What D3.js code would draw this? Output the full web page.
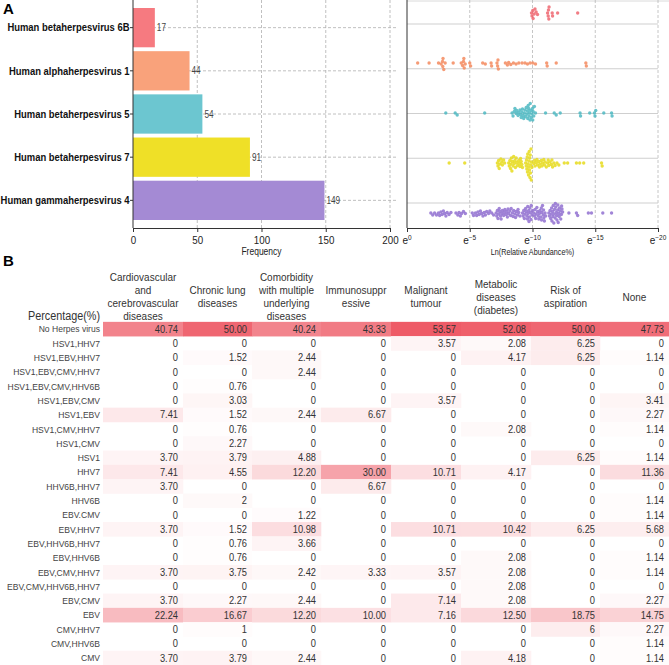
<!DOCTYPE html>
<html><head><meta charset="utf-8">
<script src="https://cdn.jsdelivr.net/npm/d3@7"></script>
<style>
body{margin:0;background:#fff;}
svg{display:block;}
text{font-family:"Liberation Sans",Arial,sans-serif;}
</style></head><body>
<svg id="chart" width="669" height="665"></svg>
<script>
// ---------- DATA ----------
const viruses = ["Human betaherpesvirus 6B","Human alphaherpesvirus 1","Human betaherpesvirus 5","Human betaherpesvirus 7","Human gammaherpesvirus 4"];
const frequencies = [17, 44, 54, 91, 149];
const barTicks = [0, 50, 100, 150, 200];
const abundanceTicks = [0, -5, -10, -15, -20];

const lnHHV6B = [-9.92,-9.96,-10.02,-10.05,-10.13,-10.2,-10.29,-10.4,-11.2,-11.25,-11.27,-11.3,-11.32,-11.57,-11.6,-12.0,-13.6];
const lnHSV1 = [-0.85,-1.76,-2.51,-2.72,-2.83,-2.85,-2.87,-2.93,-3.04,-3.68,-4.32,-4.43,-4.5,-4.53,-4.56,-4.64,-5.0,-5.07,-6.03,-6.24,-6.7,-6.74,-7.17,-7.22,-7.25,-7.28,-7.84,-8.0,-8.1,-8.27,-8.48,-8.69,-8.91,-9.17,-9.4,-9.6,-9.81,-10.03,-10.24,-11.13,-11.17,-11.89,-14.25,-14.29];
const lnHCMV = [-3.09,-3.84,-4.0,-6.19,
  -8.37,-8.45,-8.55,-8.6,-8.7,-8.75,-8.85,-8.9,-9.0,-9.05,-9.1,-9.15,-9.2,-9.25,-9.3,-9.35,-9.4,-9.45,-9.5,-9.55,-9.6,-9.62,-9.66,-9.7,-9.72,-9.75,-9.8,-9.82,-9.85,-9.9,-9.95,-10.0,-10.02,-10.05,-10.1,-10.15,-10.24,
  -11.04,-11.73,-11.89,-12.21,-13.79,-13.83,-14.56,-14.93,-14.98,-15.04,-15.68,-16.3,-16.34];
const lnHHV7 = [-3.36,-4.6,
  -7.2,-7.25,-7.3,-7.35,-7.4,-7.48,-7.55,-7.6,-7.7,-7.78,-8.1,-8.15,-8.2,-8.25,-8.3,-8.32,-8.36,-8.4,-8.45,-8.5,-8.55,-8.6,-8.64,-8.7,-8.75,-8.8,
  -8.9,-8.95,-9.0,-9.05,-9.1,-9.15,-9.2,-9.45,-9.5,-9.52,-9.55,-9.58,-9.6,-9.62,-9.65,-9.68,-9.7,-9.72,-9.74,-9.76,-9.78,-9.8,-9.82,-9.84,-9.86,-9.88,-9.9,-9.92,-9.95,
  -10.1,-10.15,-10.2,-10.3,-10.35,-10.4,-10.5,-10.55,-10.6,-10.7,-10.75,-10.8,-10.9,-10.95,-11.0,-11.1,-11.2,-11.25,-11.3,-11.4,-11.5,-11.55,-11.6,-11.7,-11.8,-11.95,-12.1,
  -12.53,-12.8,-13.5,-13.76,-14.08,-15.5,-15.55];
const lnEBV = [-1.9,-2.05,-2.2,-2.35,-2.5,-2.6,-2.7,-2.8,-2.9,-3.0,-3.1,-3.2,-3.35,-3.5,
  -3.9,-4.05,-4.15,-4.25,-4.35,-4.5,-4.65,
  -5.2,-5.3,-5.45,-5.55,-5.65,-5.75,-5.85,-5.95,-6.05,-6.15,-6.25,-6.35,-6.5,-6.6,-6.75,-6.9,
  -7.1,-7.15,-7.2,-7.25,-7.3,-7.35,-7.4,-7.45,-7.5,-7.55,-7.6,-7.7,-7.75,-7.8,-7.9,-7.95,-8.0,-8.05,-8.1,-8.2,-8.25,-8.3,-8.4,-8.45,-8.5,-8.6,-8.65,-8.7,-8.8,-8.85,-8.9,-9.0,
  -9.2,-9.25,-9.3,-9.35,-9.4,-9.45,-9.5,-9.55,-9.6,-9.62,-9.65,-9.7,-9.72,-9.75,-9.8,-9.85,-9.88,-9.9,-9.95,-10.0,
  -10.1,-10.15,-10.2,-10.25,-10.3,-10.35,-10.4,-10.45,-10.5,-10.55,-10.6,-10.65,-10.7,-10.72,-10.75,-10.8,-10.85,-10.88,-10.9,-10.95,-11.0,-11.05,
  -11.3,-11.35,-11.4,-11.45,-11.5,-11.52,-11.55,-11.6,-11.62,-11.65,-11.7,-11.72,-11.75,-11.8,-11.82,-11.85,-11.9,-11.92,-11.95,-12.0,-12.02,-12.05,-12.1,-12.12,-12.15,-12.2,-12.25,-12.3,-12.32,-12.35,-12.4,
  -12.9,-13.5,-13.6,-14.45,-14.7,-15.6,-16.3];
const abundanceSeries = [lnHHV6B, lnHSV1, lnHCMV, lnHHV7, lnEBV];

const conditions = [
  ["Cardiovascular","and","cerebrovascular","diseases"],
  ["Chronic lung","diseases"],
  ["Comorbidity","with multiple","underlying","diseases"],
  ["Immunosuppr","essive"],
  ["Malignant","tumour"],
  ["Metabolic","diseases","(diabetes)"],
  ["Risk of","aspiration"],
  ["None"]
];
const rowLabels = ["No Herpes virus","HSV1,HHV7","HSV1,EBV,HHV7","HSV1,EBV,CMV,HHV7","HSV1,EBV,CMV,HHV6B","HSV1,EBV,CMV","HSV1,EBV","HSV1,CMV,HHV7","HSV1,CMV","HSV1","HHV7","HHV6B,HHV7","HHV6B","EBV.CMV","EBV,HHV7","EBV,HHV6B,HHV7","EBV,HHV6B","EBV,CMV,HHV7","EBV,CMV,HHV6B,HHV7","EBV,CMV","EBV","CMV,HHV7","CMV,HHV6B","CMV"];
const percentages = [
  ["40.74","50.00","40.24","43.33","53.57","52.08","50.00","47.73"],
  ["0","0","0","0","3.57","2.08","6.25","0"],
  ["0","1.52","2.44","0","0","4.17","6.25","1.14"],
  ["0","0","2.44","0","0","0","0","0"],
  ["0","0.76","0","0","0","0","0","0"],
  ["0","3.03","0","0","3.57","0","0","3.41"],
  ["7.41","1.52","2.44","6.67","0","0","0","2.27"],
  ["0","0.76","0","0","0","2.08","0","1.14"],
  ["0","2.27","0","0","0","0","0","0"],
  ["3.70","3.79","4.88","0","0","0","6.25","1.14"],
  ["7.41","4.55","12.20","30.00","10.71","4.17","0","11.36"],
  ["3.70","0","0","6.67","0","0","0","0"],
  ["0","2","0","0","0","0","0","1.14"],
  ["0","0","1.22","0","0","0","0","1.14"],
  ["3.70","1.52","10.98","0","10.71","10.42","6.25","5.68"],
  ["0","0.76","3.66","0","0","0","0","0"],
  ["0","0.76","0","0","0","2.08","0","1.14"],
  ["3.70","3.75","2.42","3.33","3.57","2.08","0","1.14"],
  ["0","0","0","0","0","2.08","0","0"],
  ["3.70","2.27","2.44","0","7.14","2.08","0","2.27"],
  ["22.24","16.67","12.20","10.00","7.16","12.50","18.75","14.75"],
  ["0","1","0","0","0","0","6","2.27"],
  ["0","0","0","0","0","0","0","1.14"],
  ["3.70","3.79","2.44","0","0","4.18","0","1.14"]
];

// ---------- STYLE / LAYOUT ----------
const barColors = ["#f67a80","#f9a27b","#6cc6d0","#efe027","#a48ad4"];
const dotColors = ["#ee6670","#f38a5e","#4db8c2","#e6da1c","#9170d0"];
const svg = d3.select("#chart");

function condense(sel, f){
  sel.each(function(){
    const w = this.getComputedTextLength();
    d3.select(this).attr("textLength", w*f).attr("lengthAdjust","spacingAndGlyphs");
  });
  return sel;
}

// Panel labels
svg.append("text").attr("x",3).attr("y",14).attr("font-size",15).attr("font-weight","bold").text("A");
svg.append("text").attr("x",3).attr("y",266).attr("font-size",15).attr("font-weight","bold").text("B");

// ---------- BAR CHART ----------
const bx = d3.scaleLinear().domain([0,200]).range([133,390]);
const by = d3.scaleBand().domain(viruses).range([8,220]).paddingInner(0.09).paddingOuter(0);
const barAxisY = 228;
const gBar = svg.append("g");

gBar.selectAll(".vg").data(barTicks.slice(1)).join("line")
  .attr("x1",d=>bx(d)).attr("x2",d=>bx(d)).attr("y1",0).attr("y2",barAxisY)
  .attr("stroke","#b0b0b0").attr("stroke-width",0.8).attr("stroke-dasharray","3,2");
gBar.selectAll(".hg").data(viruses).join("line")
  .attr("x1",bx(0)).attr("x2",bx(200)+6).attr("y1",d=>by(d)+by.bandwidth()/2).attr("y2",d=>by(d)+by.bandwidth()/2)
  .attr("stroke","#b0b0b0").attr("stroke-width",0.8).attr("stroke-dasharray","3,2");

gBar.selectAll("rect").data(viruses).join("rect")
  .attr("x",bx(0)).attr("y",d=>by(d)).attr("height",by.bandwidth())
  .attr("width",(d,i)=>bx(frequencies[i])-bx(0)).attr("fill",(d,i)=>barColors[i]);

condense(gBar.selectAll(".val").data(viruses).join("text")
  .attr("x",(d,i)=>bx(frequencies[i])+2).attr("y",d=>by(d)+by.bandwidth()/2+3.5)
  .attr("font-size",10).attr("fill","#444").text((d,i)=>frequencies[i]), 0.82);

const xAxisBar = gBar.append("g").attr("transform",`translate(0,${barAxisY})`)
  .call(d3.axisBottom(bx).tickValues(barTicks).tickSize(4).tickFormat(d3.format("d")));
xAxisBar.select(".domain").attr("stroke","#333");
xAxisBar.selectAll(".tick line").attr("stroke","#333");
condense(xAxisBar.selectAll(".tick text").attr("font-size",11.5).attr("fill","#222").attr("font-family","Liberation Sans, Arial").attr("dy","0.75em"), 0.85);

const yAxisBar = gBar.append("g").attr("transform",`translate(${bx(0)},0)`)
  .call(d3.axisLeft(by).tickSize(3).tickSizeOuter(0));
yAxisBar.select(".domain").attr("d",`M0,0V${barAxisY}`).attr("stroke","#333");
yAxisBar.selectAll(".tick line").attr("stroke","#333");
condense(yAxisBar.selectAll(".tick text").attr("font-size",11.5).attr("font-weight","bold").attr("fill","#111").attr("font-family","Liberation Sans, Arial").attr("x",-3.5), 0.82);

condense(gBar.append("text").attr("x",(bx(0)+bx(200))/2).attr("y",255).attr("text-anchor","middle")
  .attr("font-size",10).attr("fill","#222").text("Frequency"), 0.85);

// ---------- DOT PLOT ----------
const dx = d3.scaleLinear().domain([0,-20]).range([407,658]);
const gridY = d3.scalePoint().domain(viruses).range([24,203]);
const dotY = d3.scalePoint().domain(viruses).range([13,213]);
const gDot = svg.append("g");

gDot.append("line").attr("x1",dx(0)).attr("x2",669).attr("y1",1).attr("y2",1).attr("stroke","#d0d0d0").attr("stroke-width",0.8);
gDot.selectAll(".vg").data(abundanceTicks.slice(1)).join("line")
  .attr("x1",d=>dx(d)).attr("x2",d=>dx(d)).attr("y1",0).attr("y2",barAxisY)
  .attr("stroke","#b8b8b8").attr("stroke-width",0.8).attr("stroke-dasharray","3,2");
gDot.selectAll(".hg").data(viruses).join("line")
  .attr("x1",dx(0)).attr("x2",dx(-20)).attr("y1",d=>gridY(d)).attr("y2",d=>gridY(d))
  .attr("stroke","#cfcfcf").attr("stroke-width",1);

const R = 1.7;
function swarm(vals, cy){
  const pts = vals.map(v=>({v, x: dx(v)})).sort((a,b)=>a.x-b.x);
  const placed = [];
  const minD = 2.7;
  pts.forEach(p=>{
    let chosen = 0;
    for(let k=0;k<120;k++){
      const off = k===0 ? 0 : (k%2===1 ? 1 : -1)*Math.ceil(k/2)*0.5;
      let ok = true;
      for(const q of placed){
        const ddx = p.x-q.x; if(Math.abs(ddx)>=minD) continue;
        const ddy = off-q.off;
        if(ddx*ddx+ddy*ddy < minD*minD){ ok=false; break; }
      }
      if(ok){ chosen = off; break; }
    }
    p.off = chosen; p.y = cy + chosen; placed.push(p);
  });
  return pts;
}
viruses.forEach((name,i)=>{
  const pts = swarm(abundanceSeries[i], dotY(name));
  gDot.append("g").selectAll("circle").data(pts).join("circle")
    .attr("cx",d=>d.x).attr("cy",d=>d.y).attr("r",R)
    .attr("fill",dotColors[i]).attr("fill-opacity",0.85);
});

const xAxisDot = gDot.append("g").attr("transform",`translate(0,${barAxisY})`)
  .call(d3.axisBottom(dx).tickValues(abundanceTicks).tickSize(4).tickFormat(""));
xAxisDot.select(".domain").attr("stroke","#333");
xAxisDot.selectAll(".tick line").attr("stroke","#333");
gDot.append("line").attr("x1",dx(0)).attr("x2",dx(0)).attr("y1",0).attr("y2",barAxisY).attr("stroke","#333");
const tl = gDot.selectAll(".etick").data(abundanceTicks).join("text")
  .attr("x",d=>dx(d)).attr("y",244).attr("text-anchor","middle").attr("font-size",10).attr("fill","#222");
tl.append("tspan").text("e");
tl.append("tspan").attr("font-size",6.5).attr("dy",-4).text(d=>d===0?"0":"\u2212"+(-d));
condense(gDot.append("text").attr("x",(dx(0)+dx(-20))/2).attr("y",255).attr("text-anchor","middle")
  .attr("font-size",8.5).attr("fill","#222").text("Ln(Relative Abundance%)"), 0.85);

// ---------- TABLE ----------
const colWidths = [80,69,69,70,70,70,69,69];
const tableLeft = 103;
const colEdges = [tableLeft, ...d3.cumsum(colWidths).map(w=>tableLeft+w)];
const firstRowY = 329, rowStep = 14.3;
const ry = d3.scaleLinear().domain([0,1]).range([firstRowY, firstRowY+rowStep]);
const heat = d3.scaleLinear().domain([0,54]).range(["#ffffff","#ee5a66"]);
const gT = svg.append("g");

const headerCenter = 297, lineH = 13;
conditions.forEach((lines,j)=>{
  const cx = (colEdges[j]+colEdges[j+1])/2;
  lines.forEach((ln,k)=>{
    const cy = headerCenter + (k-(lines.length-1)/2)*lineH;
    condense(gT.append("text").attr("x",cx).attr("y",cy+3.8).attr("text-anchor","middle")
      .attr("font-size",10.5).attr("fill","#333").text(ln), 0.95);
  });
});
condense(gT.append("text").attr("x",100).attr("y",316+4.2).attr("text-anchor","end")
  .attr("font-size",12).attr("fill","#333").text("Percentage(%)"), 0.9);

percentages.forEach((row,i)=>{
  const cy = ry(i);
  row.forEach((s,j)=>{
    const v = +s;
    if(v>0){
      gT.append("rect").attr("x",colEdges[j]).attr("y",cy-rowStep/2).attr("width",colEdges[j+1]-colEdges[j]+0.3)
        .attr("height",rowStep+0.3).attr("fill",heat(v));
    }
  });
});
percentages.forEach((row,i)=>{
  const cy = ry(i);
  condense(gT.append("text").attr("x",100).attr("y",cy+3.4).attr("text-anchor","end")
    .attr("font-size",9.5).attr("fill","#444").text(rowLabels[i]), 0.9);
  row.forEach((s,j)=>{
    condense(gT.append("text").attr("x",colEdges[j+1]-5).attr("y",cy+3.6).attr("text-anchor","end")
      .attr("font-size",10).attr("fill","#333").text(s), 0.93);
  });
});
</script>
</body></html>
